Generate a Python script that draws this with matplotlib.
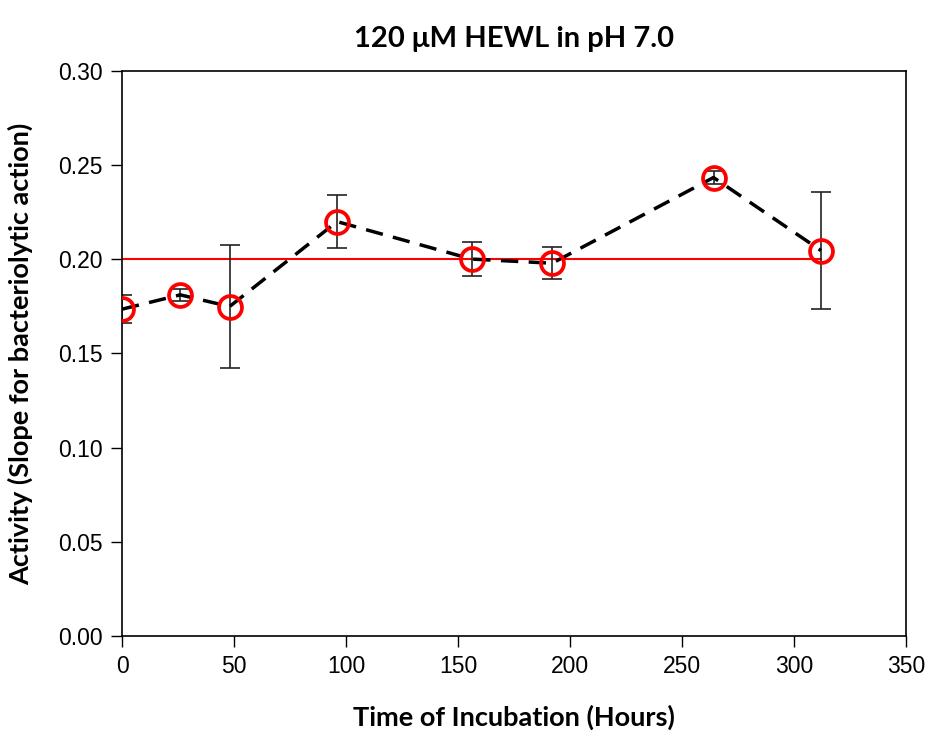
import numpy as np
import matplotlib.pyplot as plt

# incubation time (hours) and activity
hours = [0, 26, 48, 96, 156, 192, 264, 312]
activity = [0.1735, 0.1811, 0.1749, 0.2200, 0.2001, 0.1979, 0.2434, 0.2046]
err = [0.0073, 0.0030, 0.0325, 0.0142, 0.0091, 0.0084, 0.0036, 0.0312]
ref_level = 0.20

fig = plt.figure(figsize=(9.28, 7.31), dpi=100)
ax = fig.add_axes([0.1315, 0.130, 0.845, 0.773])

# reference line
ax.plot([hours[0], hours[-1]], [ref_level, ref_level], color='red', lw=1.5, zorder=1)

# error bars
ax.errorbar(hours, activity, yerr=err, fmt='none', ecolor='#222222',
            elinewidth=1.2, capsize=7, capthick=1.2, zorder=2)

# dashed line with open red circles
ax.plot(hours, activity, color='black', lw=2.5, ls=(0, (5, 3)), zorder=3)
ax.plot(hours, activity, ls='none', marker='o', ms=16.5, mfc='none',
        mec='red', mew=2.7, zorder=4)

ax.set_xlim(0, 350)
ax.set_ylim(0, 0.30)
ax.set_xticks(np.arange(0, 351, 50))
ax.set_yticks(np.arange(0, 0.301, 0.05))
ax.set_yticklabels(['%.2f' % v for v in np.arange(0, 0.301, 0.05)])

ax.tick_params(direction='out', length=8, width=1, labelsize=16.5, pad=6)
for lab in ax.get_xticklabels() + ax.get_yticklabels():
    lab.set_fontfamily('Liberation Sans')
for sp in ax.spines.values():
    sp.set_linewidth(1.2)

ax.set_title('120 \u03bcM HEWL in pH 7.0', fontsize=21, fontweight='bold',
             family='Lato', pad=17)
ax.set_xlabel('Time of Incubation (Hours)', fontsize=19.5, fontweight='bold',
              family='Lato', labelpad=19)
ax.set_ylabel('Activity (Slope for bacteriolytic action)', fontsize=19.5,
              fontweight='bold', family='Lato', labelpad=18)

fig.savefig('out.png', dpi=100)
